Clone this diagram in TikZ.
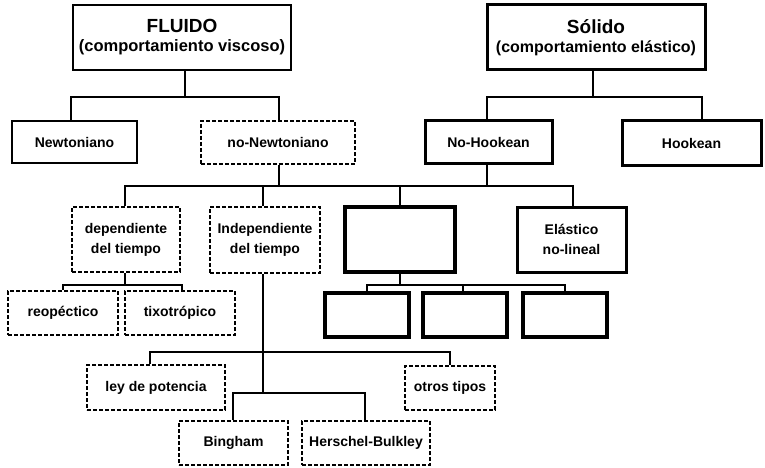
\documentclass[tikz,border=0pt]{standalone}
\usepackage{fontspec}
\setmainfont{Liberation Sans}
\begin{document}
\begin{tikzpicture}[x=1pt,y=-1pt,
  box/.style={draw, line width=2pt, inner sep=0pt, align=center, font=\fontsize{14}{17}\selectfont\bfseries},
  dbox/.style={box, dash pattern=on 4pt off 2pt},
  tbox/.style={box, line width=3pt},
  kbox/.style={box, line width=3.8pt},
  conn/.style={line width=2pt}]
\useasboundingbox (0,0) rectangle (765,468);
% top level
\node[box, minimum width=218, minimum height=65] (fluido) at (182,37.5)
  {{\fontsize{19}{22}\selectfont FLUIDO}\\[2pt]{\fontsize{16.5}{19}\selectfont(comportamiento viscoso)}};
\node[tbox, minimum width=218, minimum height=65] (solido) at (596,37.5)
  {{\fontsize{19}{22}\selectfont Sólido}\\[2pt]{\fontsize{16}{19}\selectfont(comportamiento elástico)}};
% second level
\node[box, minimum width=125, minimum height=42] (newt) at (74.5,142) {Newtoniano};
\node[dbox, minimum width=154, minimum height=43] (nonewt) at (278,142.5) {no-Newtoniano};
\node[tbox, minimum width=127, minimum height=42] (nohook) at (488.5,142) {No-Hookean};
\node[tbox, minimum width=139, minimum height=44] (hook) at (691.5,143) {Hookean};
% third level
\node[dbox, minimum width=108, minimum height=65] (dep) at (126,239.5) {dependiente\\[3pt]del tiempo};
\node[dbox, minimum width=110, minimum height=66] (indep) at (265,240) {Independiente\\[3pt]del tiempo};
\node[kbox, minimum width=110, minimum height=65] (empty) at (400,239.5) {};
\node[tbox, minimum width=109, minimum height=65] (elast) at (571.5,239.5) {Elástico\\[3pt]no-lineal};
% fourth level
\node[dbox, minimum width=110, minimum height=44] (reo) at (63,313) {reopéctico};
\node[dbox, minimum width=110, minimum height=44] (tix) at (180,313) {tixotrópico};
\node[kbox, minimum width=84, minimum height=44] (e1) at (367,315) {};
\node[kbox, minimum width=84, minimum height=44] (e2) at (465,315) {};
\node[kbox, minimum width=84, minimum height=44] (e3) at (565,315) {};
% fifth level
\node[dbox, minimum width=138, minimum height=45] (ley) at (156,387.5) {ley de potencia};
\node[dbox, minimum width=90, minimum height=44] (otros) at (450,388) {otros tipos};
\node[dbox, minimum width=109, minimum height=44] (bing) at (233.5,443) {Bingham};
\node[dbox, minimum width=128, minimum height=44] (hb) at (366,443) {Herschel-Bulkley};
% connectors: fluido
\coordinate (fb) at (185,97);
\draw[conn] (fluido.south -| fb) -- (fb);
\draw[conn] (newt.north -| 71,0) |- (fb) -| (nonewt.north -| 279,0);
% solido
\coordinate (sb) at (593,97);
\draw[conn] (solido.south -| sb) -- (sb);
\draw[conn] (nohook.north -| 487,0) |- (sb) -| (hook.north -| 702,0);
% main bus
\coordinate (mb) at (279,186);
\draw[conn] (nonewt.south -| mb) -- (mb);
\draw[conn] (nohook.south -| 487,0) -- (487,186);
\draw[conn] (dep.north -| 125,0) |- (mb) -| (elast.north -| 573,0);
\draw[conn] (indep.north -| 263,0) -- (263,186);
\draw[conn] (empty.north) -- (empty.north |- mb);
% dependiente
\coordinate (db) at (125,285);
\draw[conn] (dep.south -| db) -- (db);
\draw[conn] (reo.north) |- (db) -| (tix.north -| 182,0);
% empty children
\coordinate (eb) at (400,285);
\draw[conn] (empty.south) -- (eb);
\draw[conn] (e1.north) |- (eb) -| (e3.north);
\draw[conn] (e2.north -| 463,0) -- (463,285);
% independiente
\coordinate (ib) at (263,352);
\coordinate (ib2) at (263,393);
\draw[conn] (indep.south -| ib) -- (ib2);
\draw[conn] (ley.north -| 150,0) |- (ib) -| (otros.north);
\draw[conn] (bing.north -| 233,0) |- (ib2) -| (hb.north -| 365,0);
\end{tikzpicture}
\end{document}
